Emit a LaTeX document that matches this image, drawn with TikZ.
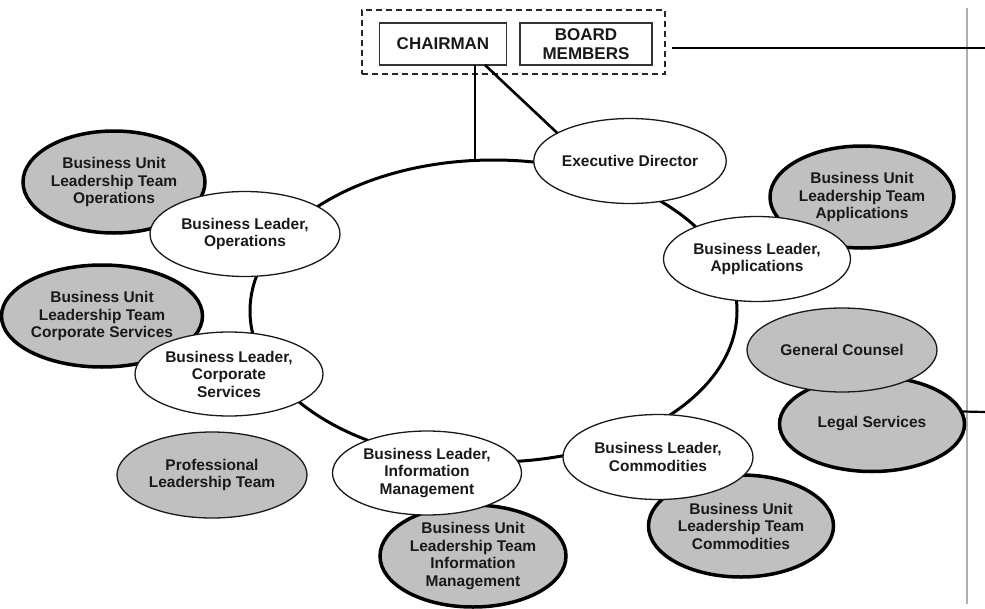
\documentclass[tikz,border=0pt]{standalone}
\usepackage{fontspec}
\setmainfont{Liberation Sans}
\usetikzlibrary{shapes.geometric}
\definecolor{unitgray}{RGB}{192,192,192}
\definecolor{inkc}{RGB}{25,25,25}
\definecolor{rulegray}{RGB}{175,175,175}
\begin{document}
\begin{tikzpicture}[x=1pt,y=-1pt,
  every node/.style={font=\fontsize{15.5}{17.5}\selectfont\bfseries, text=inkc, align=center, inner sep=0pt, outer sep=0pt},
  lead/.style={ellipse, draw=inkc, line width=1.3pt, fill=white},
  unit/.style={ellipse, draw=black, line width=3.5pt, fill=unitgray},
  plainunit/.style={ellipse, draw=inkc, line width=1.3pt, fill=unitgray},
  ringline/.style={ellipse, draw=black, line width=3pt},
  conn/.style={draw=black, line width=2.6pt},
  topbox/.style={rectangle, draw=black!80, line width=1.8pt, fill=white, font=\fontsize{17}{19}\selectfont\bfseries},
  grpbox/.style={rectangle, draw=black!85, line width=2pt, dash pattern=on 6pt off 4pt},
  ]
\useasboundingbox (0,0) rectangle (985,608);

% right-hand gray rule
\coordinate (ruletop) at (967,8);
\coordinate (rulebot) at (967,604);
\draw[rulegray, line width=1.8pt] (ruletop) -- (rulebot);

% ring
\node[ringline, minimum width=487, minimum height=302] (ring) at (493.5,311) {};

% top boxes
\node[grpbox, minimum width=303, minimum height=64] (grp) at (513.5,42) {};
\node[topbox, minimum width=127, minimum height=42] (chair) at (443,44) {CHAIRMAN};
\node[topbox, minimum width=132, minimum height=42] (board) at (586,44) {BOARD\\MEMBERS};

\coordinate (rt1) at (985,48);
\draw[conn, line width=2.2pt] ([xshift=7pt]grp.east |- rt1) -- (rt1);

% business unit teams (behind)
\node[unit, minimum width=182, minimum height=102] (buops) at (114,182) {Business Unit\\Leadership Team\\Operations};
\node[unit, minimum width=184, minimum height=102] (bucorp) at (102,316) {Business Unit\\Leadership Team\\Corporate Services};
\node[unit, minimum width=184, minimum height=102] (buapp) at (862,197) {Business Unit\\Leadership Team\\Applications};
\node[unit, minimum width=186, minimum height=102] (buim) at (473,556) {Business Unit\\Leadership Team\\Information\\Management};
\node[unit, minimum width=185, minimum height=102] (bucom) at (741,526) {Business Unit\\Leadership Team\\Commodities};
\node[unit, minimum width=185, minimum height=95] (legal) at (872,424) {Legal Services};
\node[plainunit, minimum width=190, minimum height=84] (counsel) at (842,350) {General Counsel};
\node[plainunit, minimum width=190, minimum height=86] (prof) at (212,475) {Professional\\Leadership Team};

\coordinate (rt2) at (985,412);
\draw[conn, line width=2.2pt] (legal.8) -- (rt2);

% chairman connectors
\node[lead, minimum width=190, minimum height=85] (exec) at (630,161) {Executive Director};
\draw[conn] ([xshift=32pt]chair.south) -- ([xshift=32pt]chair.south |- ring.north);
\draw[conn] ([xshift=42pt]chair.south) -- (exec.159);

% business leaders
\node[lead, minimum width=190, minimum height=85] (blops) at (245,234) {Business Leader,\\Operations};
\node[lead, minimum width=188, minimum height=84] (blcorp) at (229,374) {Business Leader,\\Corporate\\Services};
\node[lead, minimum width=187, minimum height=85] (blapp) at (757,259) {Business Leader,\\Applications};
\node[lead, minimum width=189, minimum height=84] (blim) at (427,473) {Business Leader,\\Information\\Management};
\node[lead, minimum width=190, minimum height=85] (blcom) at (658,457) {Business Leader,\\Commodities};
\end{tikzpicture}
\end{document}
